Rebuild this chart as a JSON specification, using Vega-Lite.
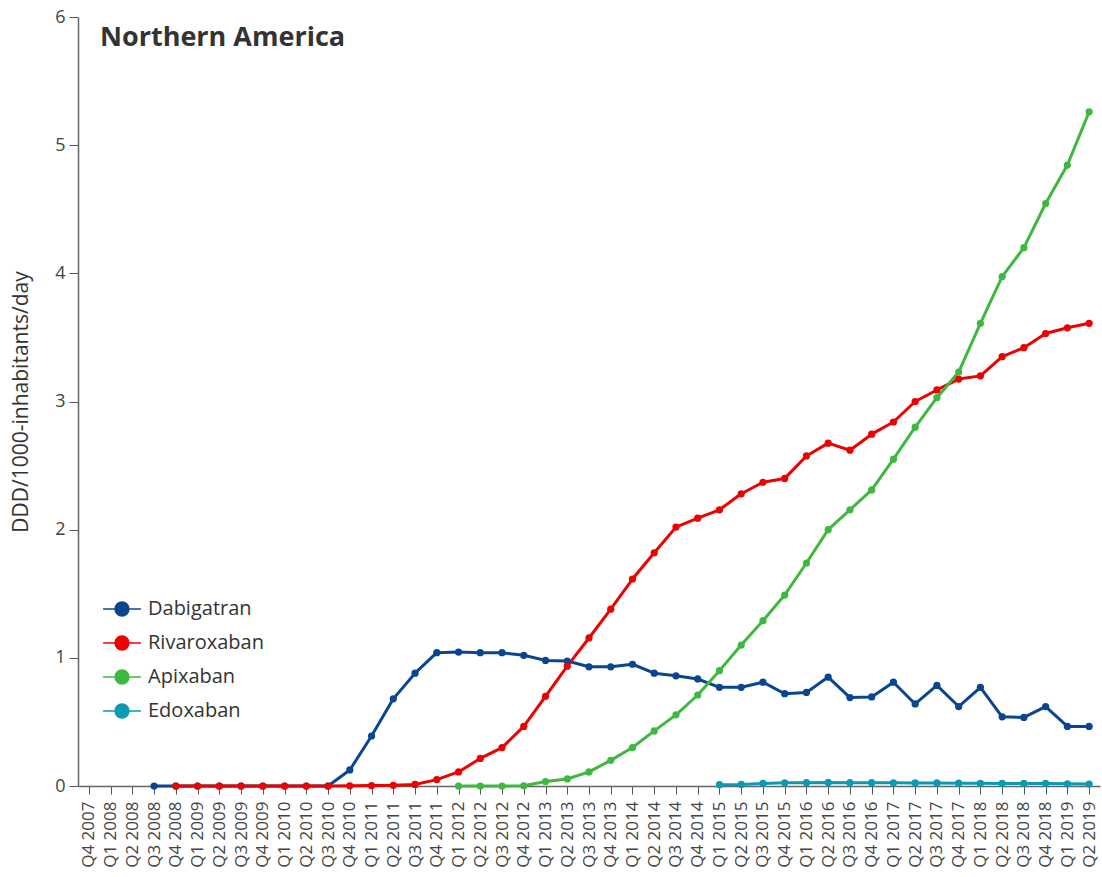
{
  "$schema": "https://vega.github.io/schema/vega-lite/v6.json",
  "autosize": "none",
  "width": 1022,
  "height": 769,
  "padding": {"left": 78, "top": 17, "right": 2, "bottom": 91},
  "background": "white",
  "config": {
    "font": "Open Sans",
    "view": {"stroke": null}
  },
  "title": {
    "text": "Northern America",
    "anchor": "start",
    "frame": "group",
    "orient": "top",
    "offset": -38,
    "dx": 22,
    "dy": 27,
    "fontSize": 27,
    "fontWeight": "bold",
    "color": "#333333",
    "font": "Open Sans",
    "baseline": "alphabetic"
  },
  "data": {
    "values": [
      {"drug": "Dabigatran", "q": "Q3 2008", "v": 0},
      {"drug": "Dabigatran", "q": "Q4 2008", "v": 0},
      {"drug": "Dabigatran", "q": "Q1 2009", "v": 0},
      {"drug": "Dabigatran", "q": "Q2 2009", "v": 0},
      {"drug": "Dabigatran", "q": "Q3 2009", "v": 0},
      {"drug": "Dabigatran", "q": "Q4 2009", "v": 0},
      {"drug": "Dabigatran", "q": "Q1 2010", "v": 0},
      {"drug": "Dabigatran", "q": "Q2 2010", "v": 0},
      {"drug": "Dabigatran", "q": "Q3 2010", "v": 0},
      {"drug": "Dabigatran", "q": "Q4 2010", "v": 0.125},
      {"drug": "Dabigatran", "q": "Q1 2011", "v": 0.39},
      {"drug": "Dabigatran", "q": "Q2 2011", "v": 0.68},
      {"drug": "Dabigatran", "q": "Q3 2011", "v": 0.88},
      {"drug": "Dabigatran", "q": "Q4 2011", "v": 1.04},
      {"drug": "Dabigatran", "q": "Q1 2012", "v": 1.045},
      {"drug": "Dabigatran", "q": "Q2 2012", "v": 1.04},
      {"drug": "Dabigatran", "q": "Q3 2012", "v": 1.04},
      {"drug": "Dabigatran", "q": "Q4 2012", "v": 1.02},
      {"drug": "Dabigatran", "q": "Q1 2013", "v": 0.98},
      {"drug": "Dabigatran", "q": "Q2 2013", "v": 0.975},
      {"drug": "Dabigatran", "q": "Q3 2013", "v": 0.93},
      {"drug": "Dabigatran", "q": "Q4 2013", "v": 0.93},
      {"drug": "Dabigatran", "q": "Q1 2014", "v": 0.95},
      {"drug": "Dabigatran", "q": "Q2 2014", "v": 0.88},
      {"drug": "Dabigatran", "q": "Q3 2014", "v": 0.86},
      {"drug": "Dabigatran", "q": "Q4 2014", "v": 0.835},
      {"drug": "Dabigatran", "q": "Q1 2015", "v": 0.77},
      {"drug": "Dabigatran", "q": "Q2 2015", "v": 0.77},
      {"drug": "Dabigatran", "q": "Q3 2015", "v": 0.81},
      {"drug": "Dabigatran", "q": "Q4 2015", "v": 0.72},
      {"drug": "Dabigatran", "q": "Q1 2016", "v": 0.73},
      {"drug": "Dabigatran", "q": "Q2 2016", "v": 0.85},
      {"drug": "Dabigatran", "q": "Q3 2016", "v": 0.69},
      {"drug": "Dabigatran", "q": "Q4 2016", "v": 0.695},
      {"drug": "Dabigatran", "q": "Q1 2017", "v": 0.81},
      {"drug": "Dabigatran", "q": "Q2 2017", "v": 0.64},
      {"drug": "Dabigatran", "q": "Q3 2017", "v": 0.785},
      {"drug": "Dabigatran", "q": "Q4 2017", "v": 0.62},
      {"drug": "Dabigatran", "q": "Q1 2018", "v": 0.77},
      {"drug": "Dabigatran", "q": "Q2 2018", "v": 0.54},
      {"drug": "Dabigatran", "q": "Q3 2018", "v": 0.535},
      {"drug": "Dabigatran", "q": "Q4 2018", "v": 0.62},
      {"drug": "Dabigatran", "q": "Q1 2019", "v": 0.465},
      {"drug": "Dabigatran", "q": "Q2 2019", "v": 0.465},
      {"drug": "Rivaroxaban", "q": "Q4 2008", "v": 0},
      {"drug": "Rivaroxaban", "q": "Q1 2009", "v": 0},
      {"drug": "Rivaroxaban", "q": "Q2 2009", "v": 0},
      {"drug": "Rivaroxaban", "q": "Q3 2009", "v": 0},
      {"drug": "Rivaroxaban", "q": "Q4 2009", "v": 0},
      {"drug": "Rivaroxaban", "q": "Q1 2010", "v": 0},
      {"drug": "Rivaroxaban", "q": "Q2 2010", "v": 0},
      {"drug": "Rivaroxaban", "q": "Q3 2010", "v": 0},
      {"drug": "Rivaroxaban", "q": "Q4 2010", "v": 0.002},
      {"drug": "Rivaroxaban", "q": "Q1 2011", "v": 0.003},
      {"drug": "Rivaroxaban", "q": "Q2 2011", "v": 0.005},
      {"drug": "Rivaroxaban", "q": "Q3 2011", "v": 0.012},
      {"drug": "Rivaroxaban", "q": "Q4 2011", "v": 0.05},
      {"drug": "Rivaroxaban", "q": "Q1 2012", "v": 0.11},
      {"drug": "Rivaroxaban", "q": "Q2 2012", "v": 0.215},
      {"drug": "Rivaroxaban", "q": "Q3 2012", "v": 0.30},
      {"drug": "Rivaroxaban", "q": "Q4 2012", "v": 0.465},
      {"drug": "Rivaroxaban", "q": "Q1 2013", "v": 0.70},
      {"drug": "Rivaroxaban", "q": "Q2 2013", "v": 0.935},
      {"drug": "Rivaroxaban", "q": "Q3 2013", "v": 1.155},
      {"drug": "Rivaroxaban", "q": "Q4 2013", "v": 1.38},
      {"drug": "Rivaroxaban", "q": "Q1 2014", "v": 1.615},
      {"drug": "Rivaroxaban", "q": "Q2 2014", "v": 1.82},
      {"drug": "Rivaroxaban", "q": "Q3 2014", "v": 2.02},
      {"drug": "Rivaroxaban", "q": "Q4 2014", "v": 2.09},
      {"drug": "Rivaroxaban", "q": "Q1 2015", "v": 2.155},
      {"drug": "Rivaroxaban", "q": "Q2 2015", "v": 2.28},
      {"drug": "Rivaroxaban", "q": "Q3 2015", "v": 2.37},
      {"drug": "Rivaroxaban", "q": "Q4 2015", "v": 2.40},
      {"drug": "Rivaroxaban", "q": "Q1 2016", "v": 2.575},
      {"drug": "Rivaroxaban", "q": "Q2 2016", "v": 2.675},
      {"drug": "Rivaroxaban", "q": "Q3 2016", "v": 2.62},
      {"drug": "Rivaroxaban", "q": "Q4 2016", "v": 2.745},
      {"drug": "Rivaroxaban", "q": "Q1 2017", "v": 2.84},
      {"drug": "Rivaroxaban", "q": "Q2 2017", "v": 3.00},
      {"drug": "Rivaroxaban", "q": "Q3 2017", "v": 3.09},
      {"drug": "Rivaroxaban", "q": "Q4 2017", "v": 3.175},
      {"drug": "Rivaroxaban", "q": "Q1 2018", "v": 3.20},
      {"drug": "Rivaroxaban", "q": "Q2 2018", "v": 3.35},
      {"drug": "Rivaroxaban", "q": "Q3 2018", "v": 3.42},
      {"drug": "Rivaroxaban", "q": "Q4 2018", "v": 3.53},
      {"drug": "Rivaroxaban", "q": "Q1 2019", "v": 3.575},
      {"drug": "Rivaroxaban", "q": "Q2 2019", "v": 3.61},
      {"drug": "Apixaban", "q": "Q1 2012", "v": 0},
      {"drug": "Apixaban", "q": "Q2 2012", "v": 0},
      {"drug": "Apixaban", "q": "Q3 2012", "v": 0},
      {"drug": "Apixaban", "q": "Q4 2012", "v": 0.002},
      {"drug": "Apixaban", "q": "Q1 2013", "v": 0.035},
      {"drug": "Apixaban", "q": "Q2 2013", "v": 0.055},
      {"drug": "Apixaban", "q": "Q3 2013", "v": 0.11},
      {"drug": "Apixaban", "q": "Q4 2013", "v": 0.20},
      {"drug": "Apixaban", "q": "Q1 2014", "v": 0.30},
      {"drug": "Apixaban", "q": "Q2 2014", "v": 0.43},
      {"drug": "Apixaban", "q": "Q3 2014", "v": 0.555},
      {"drug": "Apixaban", "q": "Q4 2014", "v": 0.71},
      {"drug": "Apixaban", "q": "Q1 2015", "v": 0.90},
      {"drug": "Apixaban", "q": "Q2 2015", "v": 1.10},
      {"drug": "Apixaban", "q": "Q3 2015", "v": 1.29},
      {"drug": "Apixaban", "q": "Q4 2015", "v": 1.49},
      {"drug": "Apixaban", "q": "Q1 2016", "v": 1.74},
      {"drug": "Apixaban", "q": "Q2 2016", "v": 2.00},
      {"drug": "Apixaban", "q": "Q3 2016", "v": 2.155},
      {"drug": "Apixaban", "q": "Q4 2016", "v": 2.31},
      {"drug": "Apixaban", "q": "Q1 2017", "v": 2.55},
      {"drug": "Apixaban", "q": "Q2 2017", "v": 2.80},
      {"drug": "Apixaban", "q": "Q3 2017", "v": 3.03},
      {"drug": "Apixaban", "q": "Q4 2017", "v": 3.23},
      {"drug": "Apixaban", "q": "Q1 2018", "v": 3.61},
      {"drug": "Apixaban", "q": "Q2 2018", "v": 3.975},
      {"drug": "Apixaban", "q": "Q3 2018", "v": 4.20},
      {"drug": "Apixaban", "q": "Q4 2018", "v": 4.545},
      {"drug": "Apixaban", "q": "Q1 2019", "v": 4.845},
      {"drug": "Apixaban", "q": "Q2 2019", "v": 5.26},
      {"drug": "Edoxaban", "q": "Q1 2015", "v": 0.01},
      {"drug": "Edoxaban", "q": "Q2 2015", "v": 0.012},
      {"drug": "Edoxaban", "q": "Q3 2015", "v": 0.02},
      {"drug": "Edoxaban", "q": "Q4 2015", "v": 0.025},
      {"drug": "Edoxaban", "q": "Q1 2016", "v": 0.026},
      {"drug": "Edoxaban", "q": "Q2 2016", "v": 0.028},
      {"drug": "Edoxaban", "q": "Q3 2016", "v": 0.026},
      {"drug": "Edoxaban", "q": "Q4 2016", "v": 0.026},
      {"drug": "Edoxaban", "q": "Q1 2017", "v": 0.025},
      {"drug": "Edoxaban", "q": "Q2 2017", "v": 0.024},
      {"drug": "Edoxaban", "q": "Q3 2017", "v": 0.024},
      {"drug": "Edoxaban", "q": "Q4 2017", "v": 0.022},
      {"drug": "Edoxaban", "q": "Q1 2018", "v": 0.021},
      {"drug": "Edoxaban", "q": "Q2 2018", "v": 0.02},
      {"drug": "Edoxaban", "q": "Q3 2018", "v": 0.02},
      {"drug": "Edoxaban", "q": "Q4 2018", "v": 0.02},
      {"drug": "Edoxaban", "q": "Q1 2019", "v": 0.017},
      {"drug": "Edoxaban", "q": "Q2 2019", "v": 0.015}
    ]
  },
  "encoding": {
    "x": {
      "field": "q",
      "type": "ordinal",
      "scale": {
        "type": "point",
        "padding": 0.5,
        "domain": [
          "Q4 2007","Q1 2008","Q2 2008","Q3 2008","Q4 2008","Q1 2009","Q2 2009","Q3 2009","Q4 2009",
          "Q1 2010","Q2 2010","Q3 2010","Q4 2010","Q1 2011","Q2 2011","Q3 2011","Q4 2011",
          "Q1 2012","Q2 2012","Q3 2012","Q4 2012","Q1 2013","Q2 2013","Q3 2013","Q4 2013",
          "Q1 2014","Q2 2014","Q3 2014","Q4 2014","Q1 2015","Q2 2015","Q3 2015","Q4 2015",
          "Q1 2016","Q2 2016","Q3 2016","Q4 2016","Q1 2017","Q2 2017","Q3 2017","Q4 2017",
          "Q1 2018","Q2 2018","Q3 2018","Q4 2018","Q1 2019","Q2 2019"
        ]
      },
      "sort": null,
      "title": null,
      "axis": {
        "labelAngle": -90,
        "labelFontSize": 17,
        "labelColor": "#444444",
        "labelPadding": 7,
        "tickSize": 8,
        "tickColor": "#555555",
        "domainColor": "#666666",
        "domainWidth": 1.5,
        "labelFont": "Open Sans"
      }
    },
    "y": {
      "field": "v",
      "type": "quantitative",
      "scale": {"domain": [0, 6], "nice": false},
      "title": "DDD/1000-inhabitants/day",
      "axis": {
        "values": [0, 1, 2, 3, 4, 5, 6],
        "grid": false,
        "labelFontSize": 18,
        "labelColor": "#444444",
        "labelPadding": 4,
        "tickSize": 9,
        "tickColor": "#555555",
        "domainColor": "#666666",
        "domainWidth": 1.5,
        "titleFontSize": 21,
        "titleFontWeight": "normal",
        "titleColor": "#333333",
        "titlePadding": 23,
        "labelFont": "Open Sans",
        "titleFont": "Open Sans"
      }
    },
    "color": {
      "field": "drug",
      "type": "nominal",
      "scale": {
        "domain": ["Dabigatran", "Rivaroxaban", "Apixaban", "Edoxaban"],
        "range": ["#0a4690", "#ee0000", "#3fb83f", "#0a9ab4"]
      },
      "legend": {
        "orient": "none",
        "legendX": 34,
        "legendY": 582,
        "title": null,
        "symbolType": "M-2.7,0H2.7M-1,0A1,1,0,1,1,1,0A1,1,0,1,1,-1,0Z",
        "symbolSize": 196,
        "symbolStrokeWidth": 1.3,
        "symbolOpacity": 1,
        "labelOffset": 16,
        "labelFontSize": 20,
        "labelColor": "#333333",
        "labelFont": "Open Sans",
        "rowPadding": 14
      }
    }
  },
  "layer": [
    {
      "mark": {"type": "line", "strokeWidth": 3, "strokeJoin": "round"},
      "encoding": {"detail": {"field": "drug"}}
    },
    {
      "mark": {"type": "circle", "size": 52, "opacity": 1},
      "encoding": {}
    }
  ]
}
